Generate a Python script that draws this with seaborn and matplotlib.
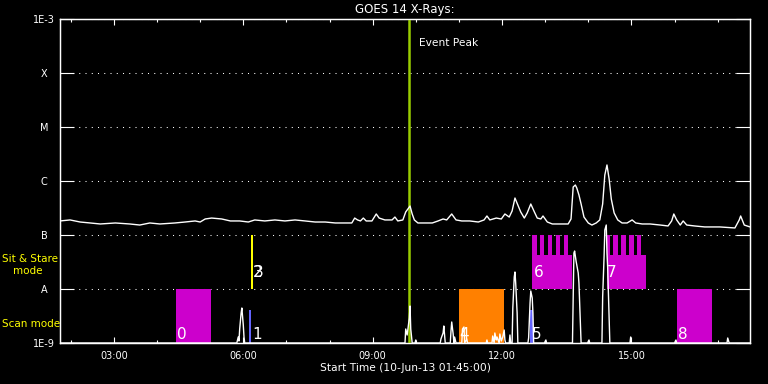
import matplotlib
matplotlib.use("Agg")
import matplotlib.pyplot as plt
import matplotlib.dates as mdates
import matplotlib.ticker as mticker
import seaborn as sns
import pandas as pd
import numpy as np

day = "2013-06-10 "

# GOES 14 long channel flux, in units of 1e-7 W/m^2
goes_times = ["01:45", "01:59", "02:13", "02:27", "02:41", "03:02", "03:22", "03:36", "03:50", "04:04",
              "04:25", "04:39", "04:53", "05:00", "05:07", "05:16", "05:30", "05:42", "05:55", "06:07",
              "06:16", "06:30", "06:44", "06:58", "07:12", "07:26", "07:40", "07:54", "08:08", "08:22",
              "08:31", "08:35", "08:39", "08:43", "08:47", "08:51", "08:59", "09:05", "09:09", "09:17",
              "09:27", "09:31", "09:35", "09:42", "09:46", "09:49", "09:52", "09:55", "09:58", "10:03",
              "10:13", "10:23", "10:31", "10:38", "10:43", "10:50", "10:56", "11:04", "11:15", "11:27",
              "11:35", "11:39", "11:43", "11:52", "11:59", "12:04", "12:10", "12:14", "12:18", "12:22",
              "12:26", "12:31", "12:35", "12:40", "12:45", "12:49", "12:54", "12:57", "13:03", "13:10",
              "13:21", "13:32", "13:36", "13:39", "13:42", "13:44", "13:47", "13:50", "13:54", "14:00",
              "14:05", "14:11", "14:16", "14:20", "14:23", "14:26", "14:29", "14:32", "14:36", "14:41",
              "14:47", "14:54", "15:01", "15:06", "15:15", "15:26", "15:40", "15:51", "15:56", "15:59",
              "16:03", "16:08", "16:12", "16:17", "16:28", "16:42", "17:03", "17:24", "17:30", "17:32",
              "17:37", "17:45"]
goes_flux_e7 = [1.82, 1.90, 1.74, 1.67, 1.60, 1.67, 1.60, 1.53, 1.67, 1.60,
                1.67, 1.74, 1.82, 1.74, 1.98, 2.06, 1.98, 1.82, 1.82, 1.74,
                1.90, 1.82, 1.90, 1.82, 1.90, 1.82, 1.74, 1.74, 1.67, 1.67,
                1.67, 2.06, 1.90, 1.82, 2.06, 1.82, 1.82, 2.45, 2.06, 1.90,
                1.90, 2.15, 1.82, 1.90, 2.67, 3.03, 3.44, 2.45, 1.90, 1.67,
                1.67, 1.67, 1.82, 1.98, 1.90, 2.45, 1.90, 1.82, 1.82, 1.74,
                1.90, 2.25, 1.90, 2.06, 1.98, 2.45, 2.15, 2.78, 4.84, 3.59,
                2.67, 2.06, 2.56, 3.75, 2.67, 2.06, 1.98, 2.25, 1.74, 1.60,
                1.60, 1.60, 1.98, 7.74, 8.43, 7.42, 5.51, 3.75, 2.15, 1.67,
                1.53, 1.67, 1.90, 3.75, 12.9, 19.8, 10.9, 4.64, 2.56, 1.90,
                1.67, 1.67, 1.90, 1.67, 1.60, 1.60, 1.53, 1.47, 1.82, 2.45,
                1.90, 1.53, 1.82, 1.53, 1.47, 1.41, 1.41, 1.35, 1.90, 2.25,
                1.53, 1.41]

# counts trace drawn in the lower (mode) panel, arbitrary units
counts_times = ["01:45",
                "05:51", "05:53", "05:54", "05:55", "05:57", "05:58", "06:00", "06:01", "06:02",
                "09:45", "09:46", "09:48", "09:51", "09:52", "09:53", "09:55",
                "09:59", "10:00", "10:01",
                "10:34", "10:35", "10:38", "10:39", "10:41",
                "10:48", "10:49", "10:50", "10:52", "10:53", "10:54", "10:56",
                "11:04", "11:05", "11:07", "11:08", "11:11", "11:12",
                "11:38", "11:39", "11:40",
                "11:46", "11:47", "11:49", "11:50", "11:52", "11:53", "11:56", "11:57", "11:59",
                "12:01", "12:03", "12:04", "12:05",
                "12:10", "12:11", "12:12",
                "12:14", "12:15", "12:17", "12:18", "12:19", "12:21", "12:22",
                "12:36", "12:37", "12:39", "12:40", "12:42", "12:43", "12:44",
                "12:59", "13:01", "13:02",
                "13:38", "13:40", "13:41", "13:43", "13:44", "13:46", "13:47", "13:48", "13:50",
                "13:59", "14:01", "14:02",
                "14:19", "14:20", "14:22", "14:23", "14:25", "14:26", "14:27", "14:29", "14:30",
                "14:58", "14:59", "15:00",
                "16:00", "16:02", "16:03",
                "17:13", "17:14", "17:16", "17:45"]
counts = [0,
          0, 6, 2, 14, 30, 35, 18, 6, 0,
          0, 14, 8, 25, 37, 14, 0,
          0, 3, 0,
          0, 4, 10, 17, 0,
          0, 12, 21, 9, 0, 6, 0,
          0, 14, 16, 0, 4, 0,
          0, 3, 0,
          0, 7, 0, 10, 3, 6, 0, 9, 2,
          6, 13, 3, 0,
          0, 8, 0,
          0, 35, 66, 71, 60, 30, 0,
          0, 5, 40, 52, 45, 30, 0,
          0, 3, 0,
          0, 90, 92, 82, 78, 70, 60, 40, 0,
          0, 3, 0,
          0, 46, 87, 113, 118, 90, 75, 25, 0,
          0, 6, 0,
          0, 3, 0,
          0, 5, 0, 0]

# scan mode observations
scan_start = ["04:26", "06:08", "11:00", "12:39", "16:03"]
scan_end = ["05:15", "06:11", "12:03", "12:43", "16:52"]
scan_top = [1e-8, 4e-9, 1e-8, 4e-9, 1e-8]
scan_color = ["#cc00cc", "#6464ff", "#ff8000", "#6464ff", "#cc00cc"]

# sit & stare observations (body + repeated short rasters)
stare_start = ["06:11", "12:42", "14:26"]
stare_end = ["06:14", "13:38", "15:20"]
stare_top = [1e-7, 4.3e-8, 4.3e-8]
stare_color = ["#ffff00", "#cc00cc", "#cc00cc"]
raster_start = ["12:42", "12:53", "13:04", "13:15", "13:26",
                "14:26", "14:34", "14:45", "14:57", "15:08"]
raster_end = ["12:48", "12:59", "13:10", "13:21", "13:32",
              "14:30", "14:41", "14:52", "15:03", "15:14"]

obs_labels = ["0", "1", "2", "3", "4", "5", "6", "7", "8"]
label_times = ["04:28", "06:13", "06:14", "06:14", "11:01", "12:42", "12:44", "14:26", "16:05"]
label_levels = [1.2e-9, 1.2e-9, 1.67e-8, 1.67e-8, 1.2e-9, 1.2e-9, 1.67e-8, 1.67e-8, 1.2e-9]

level_values = [1e-9, 1e-8, 1e-7, 1e-6, 1e-5, 1e-4, 1e-3]
level_names = ["1E-9", "A", "B", "C", "M", "X", "1E-3"]

event_peak = "09:51"


def to_dt(times):
    return pd.to_datetime([day + s for s in times])


sns.set_style("dark", {"axes.facecolor": "black", "figure.facecolor": "black",
                       "axes.edgecolor": "white", "text.color": "white",
                       "xtick.color": "white", "ytick.color": "white",
                       "axes.labelcolor": "white", "grid.color": "white"})
plt.rcParams["font.family"] = ["DejaVu Sans"]

fig = plt.figure(figsize=(7.68, 3.84), dpi=100)
ax = fig.add_axes([60 / 768, 41 / 384, 690 / 768, 324 / 384])

ax.set_yscale("log")
ax.set_ylim(1e-9, 1e-3)
ax.set_xlim(pd.Timestamp(day + "01:45"), pd.Timestamp(day + "17:45"))

# observation blocks
for s, e, top, c in zip(scan_start, scan_end, scan_top, scan_color):
    ax.fill_between(to_dt([s, e]), 1e-9, top, color=c, lw=0)
for s, e, top, c in zip(stare_start, stare_end, stare_top, stare_color):
    ax.fill_between(to_dt([s, e]), 1e-8, top, color=c, lw=0)
for s, e in zip(raster_start, raster_end):
    ax.fill_between(to_dt([s, e]), 1e-8, 1e-7, color="#cc00cc", lw=0)

for lab, t, lev in zip(obs_labels, to_dt(label_times), label_levels):
    ax.text(t, lev, lab, color="white", fontsize=11, ha="left", va="baseline", zorder=5)

# GOES curve
sns.lineplot(x=to_dt(goes_times), y=np.array(goes_flux_e7) * 1e-7, ax=ax,
             color="white", lw=1.0, zorder=4)

# event peak marker
ax.axvline(pd.Timestamp(day + event_peak), color="#99cc00", lw=1.8, zorder=3)
ax.text(pd.Timestamp(day + "10:04"), 3.6e-4, "Event Peak", color="white",
        fontsize=7.7, ha="left", va="center")

ax.set_yticks(level_values, labels=level_names)
ax.yaxis.set_minor_locator(mticker.NullLocator())
ax.yaxis.grid(True, linestyle=(0, (1, 5)), linewidth=0.75, color="white")
ax.xaxis.grid(False)

ax.xaxis.set_major_locator(mdates.HourLocator(byhour=range(0, 24, 3)))
ax.xaxis.set_minor_locator(mdates.HourLocator())
ax.xaxis.set_major_formatter(mdates.DateFormatter("%H:%M"))

for sp in ax.spines.values():
    sp.set_color("white")
    sp.set_linewidth(1.0)

# counts trace on its own linear scale
ax2 = ax.twinx()
sns.lineplot(x=to_dt(counts_times), y=counts, ax=ax2, color="white", lw=1.0)
ax2.set_ylim(0, 324)
ax2.set_yticks([])
ax2.set_ylabel("")
ax2.set_xlim(ax.get_xlim())

ax.tick_params(axis="y", which="major", direction="in", length=10, width=0.8,
               left=True, right=True, pad=11.5, labelsize=7, colors="white")
ax.tick_params(axis="x", which="major", direction="in", length=4.3, width=0.8,
               top=True, bottom=True, pad=6, labelsize=7, colors="white")
ax.tick_params(axis="x", which="minor", direction="in", length=2.2, width=0.8,
               top=True, bottom=True, colors="white")
for lab in ax.get_yticklabels():
    lab.set_horizontalalignment("center")

ax.set_ylabel("")
ax.set_title("GOES 14 X-Rays:", fontsize=8.5, color="white", pad=4)
ax.set_xlabel("Start Time (10-Jun-13 01:45:00)", fontsize=7.7, color="white", labelpad=1.5)

fig.text(2 / 768, 1 - 259 / 384, "Sit & Stare", color="#ffff00", fontsize=7.5, va="center")
fig.text(13 / 768, 1 - 271 / 384, "mode", color="#ffff00", fontsize=7.5, va="center")
fig.text(2 / 768, 1 - 324 / 384, "Scan mode", color="#ffff00", fontsize=7.5, va="center")

fig.savefig("out.png", dpi=100, facecolor="black")
